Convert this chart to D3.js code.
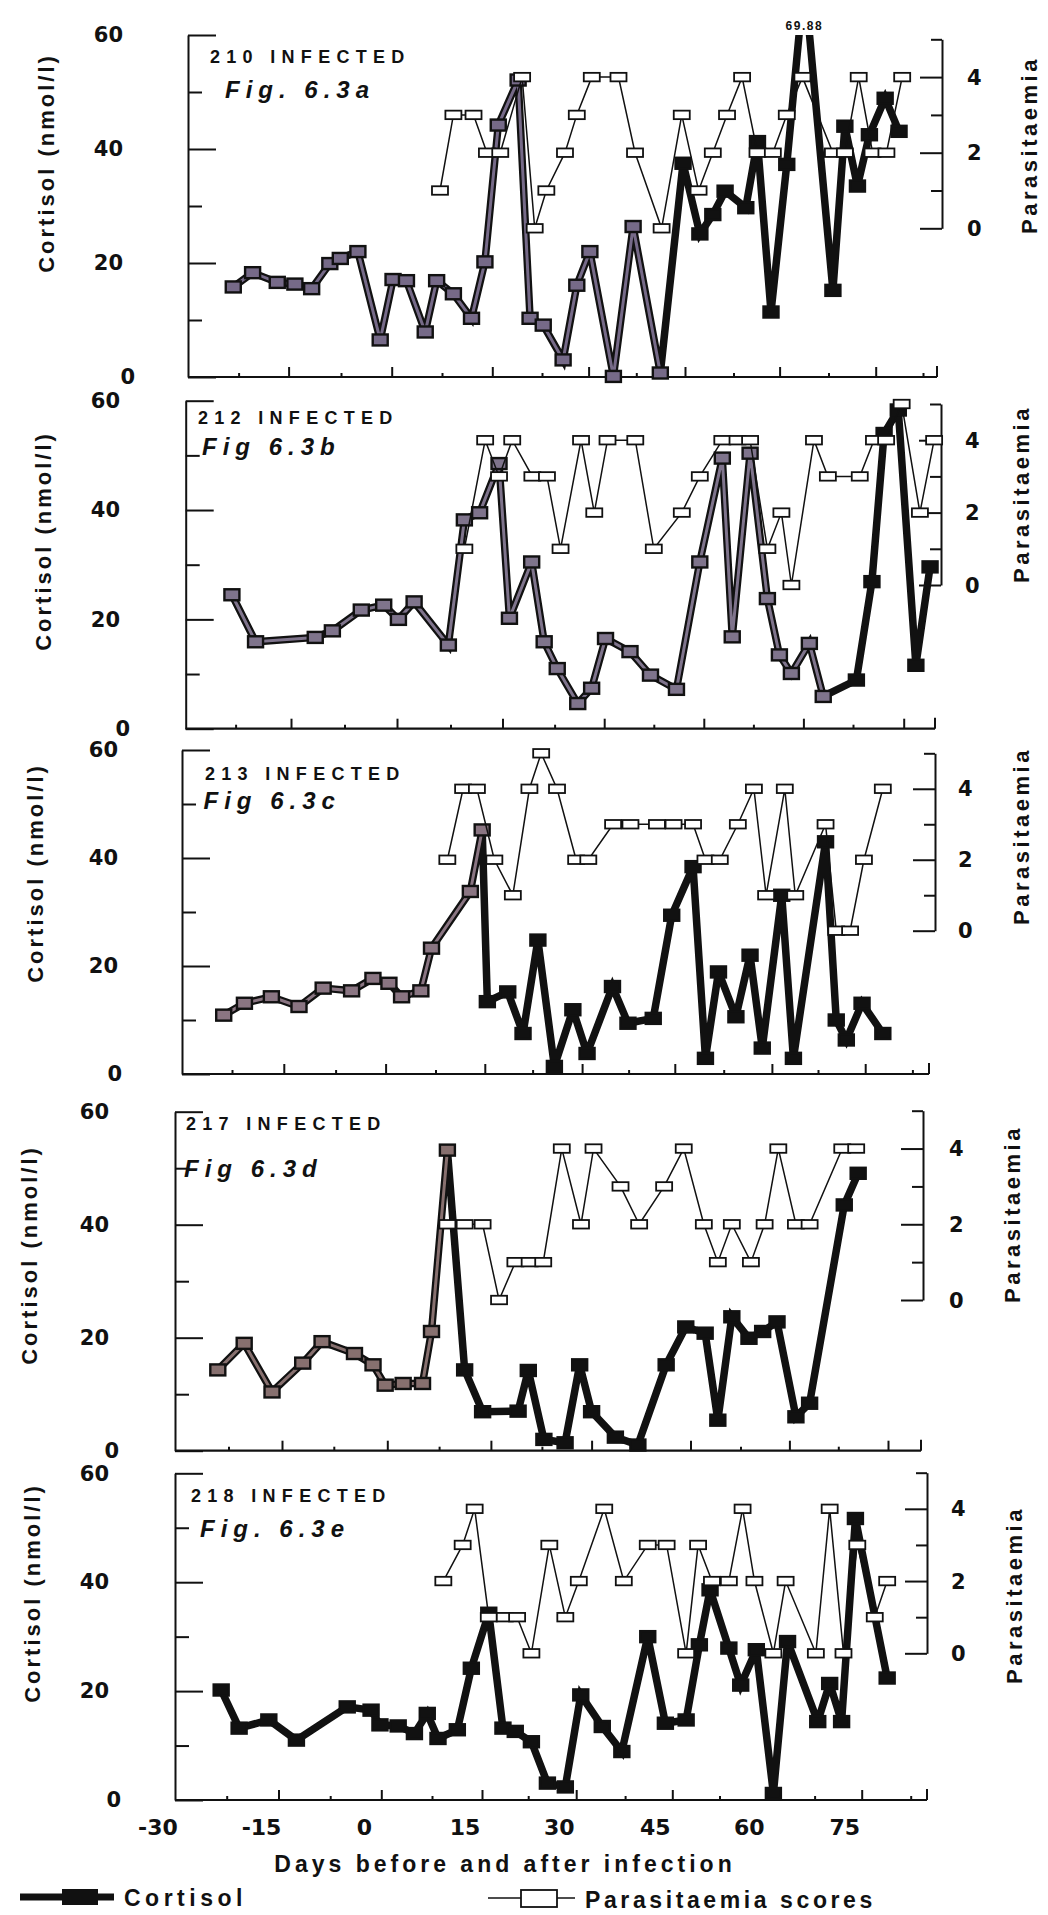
<!DOCTYPE html>
<html><head><meta charset="utf-8">
<script src="https://cdn.jsdelivr.net/npm/d3@7"></script>
<style>
body{margin:0;background:#fff;}
svg{display:block;}
text{font-family:"Liberation Sans",Arial,sans-serif;font-weight:bold;fill:#111;}
.num{font-family:"DejaVu Sans",sans-serif;font-weight:bold;}
</style></head><body>
<svg id="c" width="1048" height="1915"></svg>
<script>
// ---------------- DATA ----------------
const xTickLabels = [-30, -15, 0, 15, 30, 45, 60, 75];
const cortTickLabels = [0, 20, 40, 60];
const paraTickLabels = [0, 2, 4];
const animalLabels = ["210 INFECTED", "212 INFECTED", "213 INFECTED", "217 INFECTED", "218 INFECTED"];
const figLabels = ["Fig. 6.3a", "Fig 6.3b", "Fig 6.3c", "Fig 6.3d", "Fig. 6.3e"];
const peakNote = "69.88";
const xTitle = "Days before and after infection";
const yTitle = "Cortisol (nmol/l)";
const y2Title = "Parasitaemia";
const legendLabels = ["Cortisol", "Parasitaemia scores"];

// Panel a (210)
const a_cortDays = [-23.3,-20.4,-16.7,-14.1,-11.7,-9.1,-7.6,-5.0,-1.7,0.2,2.2,5.0,6.7,9.2,11.9,13.9,15.9,18.9,20.7,22.7,25.9,28.1,30.2,33.9,37.0,41.2,44.7,47.3,49.3,51.2,54.5,56.4,58.6,61.1,63.8,68.2,70.1,72.1,74.0,76.5,78.7];
const a_cortVals = [15.8,18.3,16.6,16.3,15.5,19.9,20.8,22.0,6.5,17.1,16.9,7.9,16.9,14.6,10.3,20.2,44.2,52.1,10.3,9.1,3.0,16.1,22.0,0.1,26.4,0.7,37.5,25.1,28.5,32.6,29.7,41.3,11.4,37.3,69.88,15.2,44.0,33.5,42.5,48.9,43.1];
const a_paraDays = [7.2,9.2,12.2,14.2,16.2,19.5,21.4,23.2,26.2,28.1,30.5,34.7,37.3,41.4,44.5,47.1,49.3,51.5,53.9,56.4,58.9,61.1,63.5,68.2,70.1,72.3,74.5,76.7,79.2];
const a_paraVals = [1,3,3,2,2,4,0,1,2,3,4,4,2,0,3,1,2,3,4,2,2,3,4,2,2,4,2,2,4];

// Panel b (212)
const b_cortDays = [-23.0,-19.8,-11.6,-9.2,-5.1,-1.9,0.2,2.4,7.2,9.5,11.7,14.5,16.0,19.2,21.0,22.9,26.0,28.1,30.2,33.9,37.0,40.9,44.4,47.8,49.3,52.0,54.6,56.4,58.2,60.9,63.0,68.0,70.3,72.1,74.2,76.8,78.9];
const b_cortVals = [24.5,15.9,16.7,17.9,21.7,22.6,20.0,23.2,15.3,38.2,39.5,48.5,20.2,30.5,15.9,11.0,4.6,7.4,16.5,14.1,9.8,7.2,30.5,49.5,16.8,50.4,23.8,13.5,10.1,15.6,5.9,8.9,26.9,54.0,58.3,11.6,29.6];
const b_paraDays = [9.5,12.5,14.5,16.4,19.3,21.4,23.4,26.5,28.5,30.5,34.7,37.5,41.7,44.4,47.8,50.1,52.0,54.6,56.7,58.2,61.6,63.7,68.5,70.6,72.4,74.7,77.4,79.5];
const b_paraVals = [1,4,3,4,3,3,1,4,2,4,4,1,2,3,4,4,4,1,2,0,4,3,3,4,4,5,2,4];

// Panel c (213)
const c_cortDays = [-23.7,-20.7,-16.8,-12.8,-9.3,-5.1,-1.9,0.5,2.4,5.3,6.9,12.8,14.6,15.4,18.6,21.0,23.3,25.8,28.6,30.8,34.9,37.4,41.5,44.5,47.8,49.7,51.7,54.4,56.6,58.5,61.6,63.5,68.7,70.4,72.0,74.5,77.8];
const c_cortVals = [10.9,13.1,14.3,12.5,15.9,15.4,17.7,16.8,14.3,15.4,23.3,33.8,45.2,13.4,15.2,7.5,24.8,1.4,11.9,3.8,16.2,9.4,10.3,29.4,38.4,2.9,18.9,10.6,22.0,4.8,33.1,2.9,43.0,10.0,6.3,13.1,7.5];
const c_paraDays = [9.3,11.7,13.8,16.5,19.4,22.0,23.8,26.2,29.1,31.0,35.0,37.8,42.1,44.8,47.8,49.7,51.9,54.7,57.2,59.1,62.1,63.8,68.7,70.4,72.6,74.8,77.8];
const c_paraVals = [2,4,4,2,1,4,5,4,2,2,3,3,3,3,3,2,2,3,4,1,4,1,3,0,0,2,4];

// Panel d (217)
const d_cortDays = [-24.0,-20.3,-16.4,-12.0,-9.2,-4.6,-2.0,-0.3,2.3,5.1,6.4,8.7,11.2,13.8,19.0,20.5,22.8,26.0,28.2,30.0,33.7,37.2,41.4,44.3,47.2,49.1,51.2,53.8,55.9,58.1,61.0,63.1,68.4,70.5];
const d_cortVals = [14.3,19.0,10.4,15.5,19.3,17.2,15.2,11.6,11.9,11.9,21.1,53.2,14.3,6.9,7.0,14.2,2.0,1.4,15.2,6.9,2.4,1.0,15.2,21.9,20.8,5.4,23.7,19.9,21.1,22.8,6.0,8.4,43.5,49.1];
const d_paraDays = [8.7,11.2,13.8,16.2,18.6,20.7,22.7,25.5,28.4,30.3,34.5,37.4,41.1,44.0,47.0,49.1,51.2,54.1,56.2,58.3,61.0,63.1,68.1,70.2];
const d_paraVals = [2,2,2,0,1,1,1,4,2,4,3,2,3,4,2,1,2,1,2,4,2,2,4,4];

// Panel e (218)
const e_cortDays = [-23.3,-20.7,-16.4,-12.4,-5.0,-1.5,-0.2,2.5,4.9,6.8,8.4,11.3,13.4,16.1,18.4,20.4,23.0,25.5,28.3,30.7,34.0,37.0,41.1,43.9,47.2,49.3,51.0,54.0,55.9,58.4,61.1,63.3,68.0,69.9,71.8,74.0,78.9];
const e_cortVals = [20.2,13.2,14.7,11.0,17.1,16.5,13.8,13.6,12.2,15.9,11.3,12.9,24.2,34.3,13.2,12.6,10.7,3.1,2.4,19.3,13.5,8.9,30.0,14.1,14.7,28.5,38.6,27.9,21.1,27.6,1.2,29.1,14.4,21.4,14.4,51.7,22.4];
const e_paraDays = [9.2,12.1,13.9,16.1,18.7,20.7,23.0,25.8,28.3,30.4,34.3,37.3,41.1,44.1,47.2,49.1,51.3,54.0,56.2,58.1,61.1,63.0,67.7,69.9,72.1,74.3,77.0,78.9];
const e_paraVals = [2,3,4,1,1,1,0,3,1,2,4,2,3,3,0,3,2,2,4,2,0,2,0,4,0,3,1,2];

// ---------------- LAYOUT (positions / styles only) ----------------
const tickDaysLong = [-22.5,-15,-7.5,0,7.5,15,22.5,30,37.5,45,52.5,60,67.5,75,82.5];
const tickDaysShort = tickDaysLong.slice(0, 14);
const layouts = [
  {xd:tickDaysLong, xr:[238.6,288.6,341,391.7,442,492.3,542,588.6,636.3,685,733.5,779.6,828.5,875.7,923],
   left:188, right:937, paraX:942, yr:[377,35], pr:[228.3,39.3],
   labR:123, zeroDx:12, lt:[46,163], rlX:967, rt:[1029,145], id:[210,62.7], fig:[225,98], innerTo:41.5, inner:"#766a88"},
  {xd:tickDaysShort, xr:[235.6,291,344.5,397,450.5,502.5,554.6,604.2,653.8,703.8,753.4,803.4,853,903.7],
   left:185.7, right:935, paraX:941, yr:[728.7,400.7], pr:[585,404],
   labR:120, zeroDx:10, lt:[43,541], rlX:965, rt:[1021,494], id:[198,424], fig:[202,455], innerTo:63.5, inner:"#7f748c"},
  {xd:tickDaysLong, xr:[232,283.8,335.6,385.6,435.5,484.8,532.6,582.1,628.6,674.8,723.7,771.9,818,865.2,912.4],
   left:182, right:929, paraX:935, yr:[1074,750], pr:[930.7,753.3],
   labR:118, zeroDx:4, lt:[35,873], rlX:958, rt:[1021,836], id:[205,780], fig:[203.5,809], innerTo:14.7, inner:"#8a7582"},
  {xd:tickDaysShort, xr:[228.5,282,333.8,387.3,439.1,490.9,541.9,591.6,639.8,690.5,740.5,789.4,838.3,888],
   left:175, right:921, paraX:923, yr:[1450.7,1111.7], pr:[1300,1110.7],
   labR:109, zeroDx:10, lt:[29,1255], rlX:949, rt:[1012,1214], id:[186,1130], fig:[184,1177], innerTo:8.8, inner:"#87706f"},
  {xd:tickDaysLong, xr:[226.7,278.5,330.2,381.3,432,482,528.2,576.2,625.1,672.3,719.5,766.3,814.6,861.7,910.7],
   left:175, right:927, paraX:927, yr:[1800,1473.3], pr:[1653.3,1472.7],
   labR:109, zeroDx:12, lt:[32,1593], rlX:951, rt:[1014,1595], id:[191,1502], fig:[200,1537], innerTo:-100, inner:"#000"}
];

const series = [
  [a_cortDays,a_cortVals,a_paraDays,a_paraVals],
  [b_cortDays,b_cortVals,b_paraDays,b_paraVals],
  [c_cortDays,c_cortVals,c_paraDays,c_paraVals],
  [d_cortDays,d_cortVals,d_paraDays,d_paraVals],
  [e_cortDays,e_cortVals,e_paraDays,e_paraVals]
];

const svg = d3.select("#c");
const defs = svg.append("defs");

series.forEach((s, i) => {
  const L = layouts[i];
  const [cd, cv, pd, pv] = s;
  const cort = cd.map((d, k) => ({d, v: cv[k]}));
  const para = pd.map((d, k) => ({d, v: pv[k]}));
  const x = d3.scaleLinear().domain(L.xd).range(L.xr);
  const y = d3.scaleLinear().domain([0, 60]).range(L.yr);
  const yp = d3.scaleLinear().domain([0, 5]).range(L.pr);
  const g = svg.append("g");

  defs.append("clipPath").attr("id", "clip" + i).append("rect")
    .attr("x", L.left).attr("y", y(60)).attr("width", L.right - L.left + 10).attr("height", y(0) - y(60) + 10);

  // left axis (inward ticks)
  const axMaj = d3.axisLeft(y).tickValues(cortTickLabels).tickSizeInner(-28).tickSizeOuter(0)
    .tickPadding(L.left - L.labR).tickFormat(d3.format("d"));
  const ga = g.append("g").attr("transform", `translate(${L.left},0)`).call(axMaj);
  ga.select(".domain").attr("stroke", "#111").attr("stroke-width", 2);
  ga.selectAll(".tick line").attr("stroke", "#111").attr("stroke-width", 2);
  ga.selectAll(".tick text").attr("class", "num").style("font-size", "21px").attr("fill", "#111")
    .attr("dx", d => d === 0 ? L.zeroDx : 0);
  const axMin = d3.axisLeft(y).tickValues([10, 30, 50]).tickSizeInner(-14).tickSizeOuter(0).tickFormat("");
  const gm = g.append("g").attr("transform", `translate(${L.left},0)`).call(axMin);
  gm.select(".domain").remove();
  gm.selectAll(".tick line").attr("stroke", "#111").attr("stroke-width", 2);

  // bottom axis
  g.append("line").attr("x1", L.left).attr("x2", L.right).attr("y1", y(0)).attr("y2", y(0))
    .attr("stroke", "#111").attr("stroke-width", 2.2);
  g.append("line").attr("x1", L.right).attr("x2", L.right).attr("y1", y(0)).attr("y2", y(0) - 11)
    .attr("stroke", "#111").attr("stroke-width", 2);
  const tv = L.xd;
  const bMaj = d3.axisBottom(x).tickValues(tv.filter(t => t % 15 === 0)).tickSizeInner(-10).tickSizeOuter(0).tickFormat("");
  const gb = g.append("g").attr("transform", `translate(0,${y(0)})`).call(bMaj);
  gb.select(".domain").remove();
  gb.selectAll(".tick line").attr("stroke", "#111").attr("stroke-width", 2);
  const bMin = d3.axisBottom(x).tickValues(tv.filter(t => t % 15 !== 0)).tickSizeInner(-4).tickSizeOuter(0).tickFormat("");
  const gb2 = g.append("g").attr("transform", `translate(0,${y(0)})`).call(bMin);
  gb2.select(".domain").remove();
  gb2.selectAll(".tick line").attr("stroke", "#111").attr("stroke-width", 2);

  // right parasitaemia axis
  const rMaj = d3.axisLeft(yp).tickValues(paraTickLabels).tickSizeInner(22).tickSizeOuter(0).tickFormat("");
  const gr = g.append("g").attr("transform", `translate(${L.paraX},0)`).call(rMaj);
  gr.select(".domain").attr("stroke", "#111").attr("stroke-width", 2);
  gr.selectAll(".tick line").attr("stroke", "#111").attr("stroke-width", 2);
  const rMin = d3.axisLeft(yp).tickValues([1, 3, 5]).tickSizeInner(11).tickSizeOuter(0).tickFormat("");
  const gr2 = g.append("g").attr("transform", `translate(${L.paraX},0)`).call(rMin);
  gr2.select(".domain").remove();
  gr2.selectAll(".tick line").attr("stroke", "#111").attr("stroke-width", 2);
  g.selectAll(".rlab").data(paraTickLabels).join("text").attr("class", "num")
    .attr("x", L.rlX).attr("y", d => yp(d)).attr("dy", "0.36em").style("font-size", "21px").text(d => d);

  // titles
  g.append("text").attr("transform", `translate(${L.lt[0]},${L.lt[1]}) rotate(-90)`)
    .attr("text-anchor", "middle").attr("dy", "0.35em").style("font-size", "22px").style("letter-spacing", "3px").text(yTitle);
  g.append("text").attr("transform", `translate(${L.rt[0]},${L.rt[1]}) rotate(-90)`)
    .attr("text-anchor", "middle").attr("dy", "0.35em").style("font-size", "22px").style("letter-spacing", "3.5px").text(y2Title);
  g.append("text").attr("x", L.id[0]).attr("y", L.id[1]).style("font-size", "18px").style("letter-spacing", "6.3px").text(animalLabels[i]);
  g.append("text").attr("x", L.fig[0]).attr("y", L.fig[1]).style("font-size", "24px").style("font-style", "italic")
    .style("letter-spacing", "6px").text(figLabels[i]);

  // cortisol series
  const cg = g.append("g").attr("clip-path", `url(#clip${i})`);
  const line = d3.line().x(d => x(d.d)).y(d => y(d.v));
  cg.append("path").datum(cort).attr("d", line).attr("fill", "none").attr("stroke", "#111")
    .attr("stroke-width", 7.5).attr("stroke-linejoin", "miter").attr("stroke-miterlimit", 3);
  const innerPts = cort.filter(d => d.d <= L.innerTo);
  if (innerPts.length > 1) {
    cg.append("path").datum(innerPts).attr("d", line).attr("fill", "none").attr("stroke", L.inner)
      .attr("stroke-width", 3).attr("stroke-linejoin", "miter").attr("stroke-miterlimit", 3);
  }
  cg.selectAll(".cm").data(cort.filter(d => d.v <= 60)).join("rect")
    .attr("x", d => x(d.d) - 7.5).attr("y", d => y(d.v) - 5.5).attr("width", 15).attr("height", 11)
    .attr("fill", d => d.d <= L.innerTo ? L.inner : "#111").attr("stroke", "#111").attr("stroke-width", 2.4);

  // parasitaemia series
  const pline = d3.line().x(d => x(d.d)).y(d => yp(d.v));
  g.append("path").datum(para).attr("d", pline).attr("fill", "none").attr("stroke", "#111").attr("stroke-width", 1.5);
  g.selectAll(".pm").data(para).join("rect")
    .attr("x", d => x(d.d) - 8).attr("y", d => yp(d.v) - 4.25).attr("width", 16).attr("height", 8.5)
    .attr("fill", "#fff").attr("stroke", "#111").attr("stroke-width", 1.8);

  if (i === 0) {
    const pk = cort.find(d => d.v > 60);
    g.append("text").attr("x", x(pk.d)).attr("y", 30).attr("text-anchor", "middle")
      .style("font-size", "12px").style("letter-spacing", "1.5px").text(peakNote);
  }

  if (i === series.length - 1) {
    g.selectAll(".xl").data(xTickLabels).join("text").attr("class", "num")
      .attr("x", d => x(d) - 17).attr("y", 1835).attr("text-anchor", "middle").style("font-size", "22px")
      .text(d => d);
    g.append("text").attr("x", 505).attr("y", 1872).attr("text-anchor", "middle").style("font-size", "23px")
      .style("letter-spacing", "4px").text(xTitle);
  }
});

// legend
const lg = svg.append("g");
lg.append("line").attr("x1", 20).attr("x2", 114).attr("y1", 1897).attr("y2", 1897).attr("stroke", "#111").attr("stroke-width", 7);
lg.append("rect").attr("x", 62).attr("y", 1889).attr("width", 36).attr("height", 16).attr("fill", "#111");
lg.append("text").attr("x", 124).attr("y", 1906).style("font-size", "23px").style("letter-spacing", "4.5px").text(legendLabels[0]);
lg.append("line").attr("x1", 488).attr("x2", 575).attr("y1", 1898).attr("y2", 1898).attr("stroke", "#111").attr("stroke-width", 1.6);
lg.append("rect").attr("x", 521).attr("y", 1890).attr("width", 36).attr("height", 17).attr("fill", "#fff").attr("stroke", "#111").attr("stroke-width", 1.8);
lg.append("text").attr("x", 585).attr("y", 1908).style("font-size", "23px").style("letter-spacing", "3.6px").text(legendLabels[1]);
</script>
</body></html>
